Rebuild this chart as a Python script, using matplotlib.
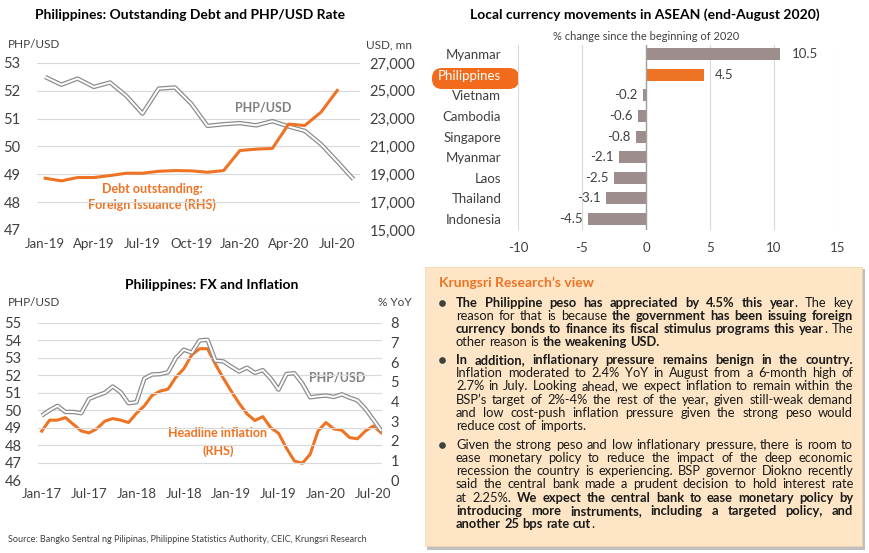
import matplotlib
matplotlib.use("Agg")
import matplotlib.pyplot as plt
from matplotlib.patches import FancyBboxPatch, Rectangle

plt.rcParams['font.family'] = ['Lato', 'DejaVu Sans']
plt.rcParams['axes.unicode_minus'] = False

ORANGE = "#EE7324"
GRAY_LINE = "#A6A6A6"
BAR_GRAY = "#9D8D8C"
GRID = "#D9D9D9"
TXT = "#404040"

# ---- chart 1: outstanding debt and PHP/USD (Jan-19 .. Aug-20)
debt_months = ["Jan-19", "Feb-19", "Mar-19", "Apr-19", "May-19", "Jun-19", "Jul-19",
               "Aug-19", "Sep-19", "Oct-19", "Nov-19", "Dec-19", "Jan-20", "Feb-20",
               "Mar-20", "Apr-20", "May-20", "Jun-20", "Jul-20", "Aug-20"]
php_2019_20 = [52.50, 52.22, 52.44, 52.14, 52.30, 51.82, 51.18, 52.08, 52.12, 51.54,
               50.74, 50.80, 50.84, 50.76, 50.91, 50.72, 50.56, 50.08, 49.46, 48.82]
debt_foreign = [18720, 18530, 18770, 18770, 18910, 19080, 19080, 19220, 19270, 19250,
                19150, 19270, 20710, 20810, 20860, 22610, 22510, 23470, 25030]
debt_ticks = ["Jan-19", "Apr-19", "Jul-19", "Oct-19", "Jan-20", "Apr-20", "Jul-20"]

# ---- chart 2: local currency movements
countries = ["Myanmar", "Philippines", "Vietnam", "Cambodia", "Singapore",
             "Myanmar", "Laos", "Thailand", "Indonesia"]
fx_change = [10.5, 4.5, -0.2, -0.6, -0.8, -2.1, -2.5, -3.1, -4.5]

# ---- chart 3: FX and inflation (Jan-17 .. Aug-20)
fx_months = [f"{m}-{y}" for y in ["17", "18", "19", "20"]
             for m in ["Jan", "Feb", "Mar", "Apr", "May", "Jun",
                       "Jul", "Aug", "Sep", "Oct", "Nov", "Dec"]][:44]
php_long = [49.69, 50.00, 50.25, 49.90, 49.90, 49.83, 50.65, 50.84, 51.00, 51.36,
            51.03, 50.40, 50.46, 51.82, 52.05, 52.07, 52.18, 53.00, 53.47, 53.30,
            54.00, 54.04, 52.84, 52.80] + php_2019_20
inflation = [2.49, 3.05, 3.05, 3.18, 2.84, 2.50, 2.40, 2.62, 3.00, 3.13, 3.05, 2.93,
             3.40, 3.78, 4.32, 4.53, 4.63, 5.24, 5.67, 6.37, 6.69, 6.69, 5.90, 5.19,
             4.53, 3.91, 3.37, 3.03, 3.23, 2.67, 2.38, 1.62, 0.97, 0.85, 1.31, 2.50,
             2.93, 2.60, 2.54, 2.16, 2.10, 2.50, 2.75, 2.41]
fx_ticks = ["Jan-17", "Jul-17", "Jan-18", "Jul-18", "Jan-19", "Jul-19", "Jan-20", "Jul-20"]

W, H = 870, 553
fig = plt.figure(figsize=(W / 100, H / 100), dpi=100)

# canvas axes in pixel coordinates for titles, notes and the text box
canvas = fig.add_axes([0, 0, 1, 1])
canvas.set_xlim(0, W)
canvas.set_ylim(H, 0)
canvas.axis("off")


def px_axes(x0, y0, x1, y1):
    ax = fig.add_axes([x0 / W, 1 - y1 / H, (x1 - x0) / W, (y1 - y0) / H])
    ax.patch.set_alpha(0)
    return ax


def clean(ax):
    for s in ax.spines.values():
        s.set_visible(False)
    ax.tick_params(length=0, colors=TXT, labelsize=9.5)


def double_line(ax, x, y):
    ax.plot(x, y, color="#8C8C8C", lw=3.2, solid_capstyle="butt", zorder=3)
    ax.plot(x, y, color="white", lw=1.4, solid_capstyle="butt", zorder=4)


# ================= chart 1
ax1 = px_axes(37, 63, 360, 230)
clean(ax1)
x1 = list(range(len(debt_months)))
double_line(ax1, x1, php_2019_20)
ax1.set_ylim(47, 53)
ax1.set_yticks(range(47, 54))
ax1.set_xlim(-0.5, 19.4)
ax1.set_xticks([debt_months.index(t) for t in debt_ticks])
ax1.set_xticklabels(debt_ticks)
ax1.grid(axis="y", color=GRID, lw=0.8)
ax1.set_axisbelow(True)
ax1.tick_params(axis="y", pad=12)
ax1.tick_params(axis="x", pad=6)
for lab in ax1.get_yticklabels():
    lab.set_fontsize(10.5)
ax1r = ax1.twinx()
clean(ax1r)
ax1r.plot(x1[:len(debt_foreign)], debt_foreign, color=ORANGE, lw=2.2, zorder=5)
ax1r.set_ylim(15000, 27000)
ax1r.set_yticks(range(15000, 27001, 2000))
ax1r.set_yticklabels([f"{v:,}" for v in range(15000, 27001, 2000)])
ax1r.tick_params(axis="y", pad=7, labelsize=10.5)

canvas.text(190, 15, "Philippines: Outstanding Debt and PHP/USD Rate", ha="center",
            va="center", fontsize=10, fontweight="bold", color="black")
canvas.text(8, 45, "PHP/USD", ha="left", va="center", fontsize=8.5, color=TXT)
canvas.text(412, 45, "USD, mn", ha="right", va="center", fontsize=8.5, color=TXT)
canvas.text(263, 108, "PHP/USD", ha="center", va="center", fontsize=9,
            fontweight="bold", color="#7F7F7F")
canvas.text(152, 197, "Debt outstanding:\nForeign Issuance (RHS)", ha="center",
            va="center", fontsize=9, fontweight="bold", color=ORANGE, linespacing=1.3)

# ================= chart 2
ax2 = px_axes(518, 45, 838, 230)
clean(ax2)
rows = list(range(len(countries)))
bar_colors = [ORANGE if c == "Philippines" else BAR_GRAY for c in countries]
ax2.barh(rows, fx_change, height=0.58, color=bar_colors, zorder=3)
ax2.set_xlim(-10, 15)
ax2.set_ylim(8.53, -0.44)
ax2.set_xticks(range(-10, 16, 5))
ax2.grid(axis="x", color=GRID, lw=0.8)
ax2.axvline(0, color="#A0A0A0", lw=1, zorder=4)
ax2.set_yticks(rows)
ax2.set_yticklabels(countries)
ax2.tick_params(axis="y", pad=12, labelsize=9.5)
ax2.tick_params(axis="x", pad=9)
for lab in ax2.get_yticklabels():
    if lab.get_text() == "Philippines":
        lab.set_color("white")
for r, v in zip(rows, fx_change):
    ax2.annotate(f"{v}", (v, r), xytext=(8 if v > 0 else -4, 0),
                 textcoords="offset points", ha="left" if v > 0 else "right",
                 va="center", fontsize=9.5, color=TXT)
canvas.add_patch(FancyBboxPatch((432, 68), 87, 21,
                                boxstyle="round,pad=0,rounding_size=10",
                                facecolor="#F26A1B", edgecolor="none", zorder=1))
canvas.text(645, 15, "Local currency movements in ASEAN (end-August 2020)",
            ha="center", va="center", fontsize=10, fontweight="bold", color="black")
canvas.text(646, 37, "% change since the beginning of 2020", ha="center",
            va="center", fontsize=8, color=TXT)

# ================= chart 3
ax3 = px_axes(38, 323, 382, 480)
clean(ax3)
x3 = list(range(len(fx_months)))
double_line(ax3, x3, php_long)
ax3.set_ylim(46, 55)
ax3.set_yticks(range(46, 56))
ax3.set_xlim(-0.47, 43.1)
ax3.set_xticks([fx_months.index(t) for t in fx_ticks])
ax3.set_xticklabels(fx_ticks)
ax3.grid(axis="y", color=GRID, lw=0.8)
ax3.set_axisbelow(True)
ax3.tick_params(axis="y", pad=12, labelsize=10.5)
ax3.tick_params(axis="x", pad=6)
ax3r = ax3.twinx()
clean(ax3r)
ax3r.plot(x3, inflation, color=ORANGE, lw=2.2, zorder=2)
ax3r.set_ylim(0, 8)
ax3r.set_yticks(range(0, 9))
ax3r.tick_params(axis="y", pad=6, labelsize=10.5)
ax3.set_zorder(ax3r.get_zorder() + 1)

canvas.text(212, 285, "Philippines: FX and Inflation", ha="center", va="center",
            fontsize=10, fontweight="bold", color="black")
canvas.text(8, 303, "PHP/USD", ha="left", va="center", fontsize=8.5, color=TXT)
canvas.text(412, 303, "% YoY", ha="right", va="center", fontsize=8.5, color=TXT)
canvas.text(337, 378, "PHP/USD", ha="center", va="center", fontsize=9,
            fontweight="bold", color="#7F7F7F")
canvas.text(218, 442, "Headline inflation\n(RHS)", ha="center", va="center",
            fontsize=9, fontweight="bold", color=ORANGE, linespacing=1.5)
canvas.text(8, 540, "Source: Bangko Sentral ng Pilipinas, Philippine Statistics Authority, "
            "CEIC, Krungsri Research", ha="left", va="center", fontsize=6.5, color=TXT)

# ================= text box
canvas.add_patch(Rectangle((427, 269), 438, 281, facecolor="#BFBFBF",
                           edgecolor="none", zorder=0))
canvas.add_patch(Rectangle((425, 267), 437, 279, facecolor="#FDE5C5",
                           edgecolor="#F2D3A8", lw=0.5, zorder=0.5))
canvas.text(439, 283, "Krungsri Research’s view", ha="left", va="center",
            fontsize=10, fontweight="bold", color=ORANGE)

B, R = True, False
paragraphs = [
    [[("The Philippine peso has appreciated by 4.5% this year", B), (". The key", R)],
     [("reason for that is because ", R), ("the government has been issuing foreign", B)],
     [("currency bonds to finance its fiscal stimulus programs this year", B), (". The", R)],
     [("other reason is ", R), ("the weakening USD.", B)]],
    [[("In addition, inflationary pressure remains benign in the country.", B)],
     [("Inflation moderated to 2.4% YoY in August from a 6-month high of", R)],
     [("2.7% in July. Looking ahead, we expect inflation to remain within the", R)],
     [("BSP’s target of 2%-4% the rest of the year, given still-weak demand", R)],
     [("and low cost-push inflation pressure given the strong peso would", R)],
     [("reduce cost of imports.", R)]],
    [[("Given the strong peso and low inflationary pressure, there is room to", R)],
     [("ease monetary policy to reduce the impact of the deep economic", R)],
     [("recession the country is experiencing. BSP governor Diokno recently", R)],
     [("said the central bank made a prudent decision to hold interest rate", R)],
     [("at 2.25%. ", R), ("We expect the central bank to ease monetary policy by", B)],
     [("introducing more instruments, including a targeted policy, and", B)],
     [("another 25 bps rate cut", B), (".", R)]],
]
para_top = [303, 360, 445]
LINE_H = 13.3
TX0, TX1 = 456, 853


def line_words(segs):
    words = []
    new_word = True
    for txt, bold in segs:
        for i, p in enumerate(txt.split(" ")):
            if i > 0:
                new_word = True
            if p == "":
                continue
            if new_word or not words:
                words.append([(p, bold)])
            else:
                words[-1].append((p, bold))
            new_word = False
    return words


renderer = fig.canvas.get_renderer()


def text_w(s, bold, size):
    t = canvas.text(0, 0, s, fontsize=size, fontweight="bold" if bold else "normal")
    w = t.get_window_extent(renderer).width
    t.remove()
    return w


def word_w(word, size):
    return sum(text_w(p, b, size) for p, b in word)


base = 9.0
space = text_w("x x", False, base) - text_w("xx", False, base)
natural = []
for para in paragraphs:
    for segs in para:
        ws = line_words(segs)
        natural.append(sum(word_w(w, base) for w in ws) + space * (len(ws) - 1))
size = min(9.3, base * (TX1 - TX0) * 0.985 / max(natural))
space = text_w("x x", False, size) - text_w("xx", False, size)

for para, top in zip(paragraphs, para_top):
    canvas.plot(442, top, "o", color="#404040", ms=3.8, zorder=3)
    for li, segs in enumerate(para):
        y = top + li * LINE_H + 3.6
        ws = line_words(segs)
        widths = [word_w(w, size) for w in ws]
        last = li == len(para) - 1
        gap = space if last or len(ws) < 2 else (TX1 - TX0 - sum(widths)) / (len(ws) - 1)
        x = TX0
        for w, ww in zip(ws, widths):
            xp = x
            for p, b in w:
                canvas.text(xp, y, p, ha="left", va="baseline", fontsize=size,
                            fontweight="bold" if b else "normal", color="#1A1A1A",
                            zorder=3)
                xp += text_w(p, b, size)
            x += ww + gap

fig.savefig("out.png", dpi=100)
